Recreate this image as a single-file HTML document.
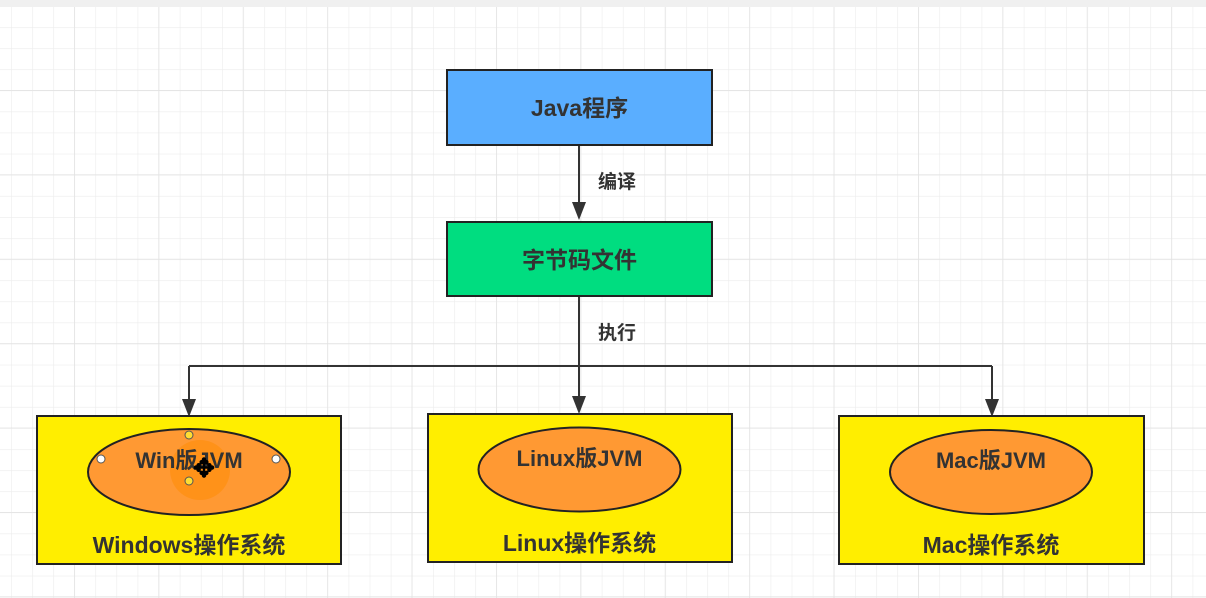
<!DOCTYPE html>
<html><head><meta charset="utf-8"><style>
html,body{margin:0;padding:0;background:#fff;}
svg{display:block;}
text{font-family:"Liberation Sans","Noto Sans CJK SC",sans-serif;font-weight:bold;fill:#333;}
</style></head><body>
<svg width="1206" height="598" viewBox="0 0 1206 598" xmlns="http://www.w3.org/2000/svg">
<defs>
<pattern id="minor" x="11" y="6" width="21.1" height="21.1" patternUnits="userSpaceOnUse">
<path d="M0 0H21.1M0 0V21.1" stroke="#ececec" stroke-width="1.2" fill="none"/>
</pattern>
<pattern id="major" x="74" y="90" width="84.4" height="84.4" patternUnits="userSpaceOnUse">
<path d="M0 0H84.4M0 0V84.4" stroke="#e2e2e2" stroke-width="1.4" fill="none"/>
</pattern>
</defs>
<rect width="1206" height="598" fill="#fff"/>
<rect width="1206" height="598" fill="url(#minor)"/>
<rect width="1206" height="598" fill="url(#major)"/>
<rect width="1206" height="7" fill="#f0f0f0"/>

<rect x="447" y="70" width="265" height="75" fill="#5aaeff" stroke="#222" stroke-width="2"/>
<text x="579.5" y="116" font-size="23" text-anchor="middle">Java程序</text>
<rect x="447" y="222" width="265" height="74" fill="#00dd80" stroke="#222" stroke-width="2"/>
<text x="579.5" y="268" font-size="23" text-anchor="middle">字节码文件</text>

<g stroke="#333" stroke-width="2" fill="none">
<path d="M579 146V205" />
<path d="M579 297V366M189 366H992M189 366V399M579 366V397M992 366V399"/>
</g>
<path d="M572 202H586L579 220Z" fill="#333"/>
<path d="M182 399H196L189 417Z" fill="#333"/>
<path d="M572 396H586L579 414Z" fill="#333"/>
<path d="M985 399H999L992 417Z" fill="#333"/>
<text x="598" y="188" font-size="19">编译</text>
<text x="598" y="339" font-size="19">执行</text>

<rect x="37" y="416" width="304" height="148" fill="#ffee00" stroke="#222" stroke-width="2"/>
<ellipse cx="189" cy="472" rx="101" ry="43" fill="#ff9933" stroke="#222" stroke-width="2"/>
<circle cx="200" cy="470" r="30" fill="#ff8c00" opacity="0.5"/>
<text x="189" y="468" font-size="22" text-anchor="middle">Win版JVM</text>
<text x="189" y="553" font-size="23" text-anchor="middle">Windows操作系统</text>
<circle cx="189" cy="435" r="4" fill="#ffdd33" stroke="#555"/>
<circle cx="189" cy="481" r="4" fill="#ffdd33" stroke="#555"/>
<circle cx="101" cy="459" r="4" fill="#fff" stroke="#555"/>
<circle cx="276" cy="459" r="4" fill="#fff" stroke="#555"/>
<text x="204" y="477" font-size="26" text-anchor="middle" style="fill:#000">✥</text>

<rect x="428" y="414" width="304" height="148" fill="#ffee00" stroke="#222" stroke-width="2"/>
<ellipse cx="579.5" cy="469.5" rx="101" ry="42" fill="#ff9933" stroke="#222" stroke-width="2"/>
<text x="579.5" y="466" font-size="22" text-anchor="middle">Linux版JVM</text>
<text x="579.5" y="551" font-size="23" text-anchor="middle">Linux操作系统</text>

<rect x="839" y="416" width="305" height="148" fill="#ffee00" stroke="#222" stroke-width="2"/>
<ellipse cx="991" cy="472" rx="101" ry="42" fill="#ff9933" stroke="#222" stroke-width="2"/>
<text x="991" y="468" font-size="22" text-anchor="middle">Mac版JVM</text>
<text x="991" y="553" font-size="23" text-anchor="middle">Mac操作系统</text>
</svg>
</body></html>
